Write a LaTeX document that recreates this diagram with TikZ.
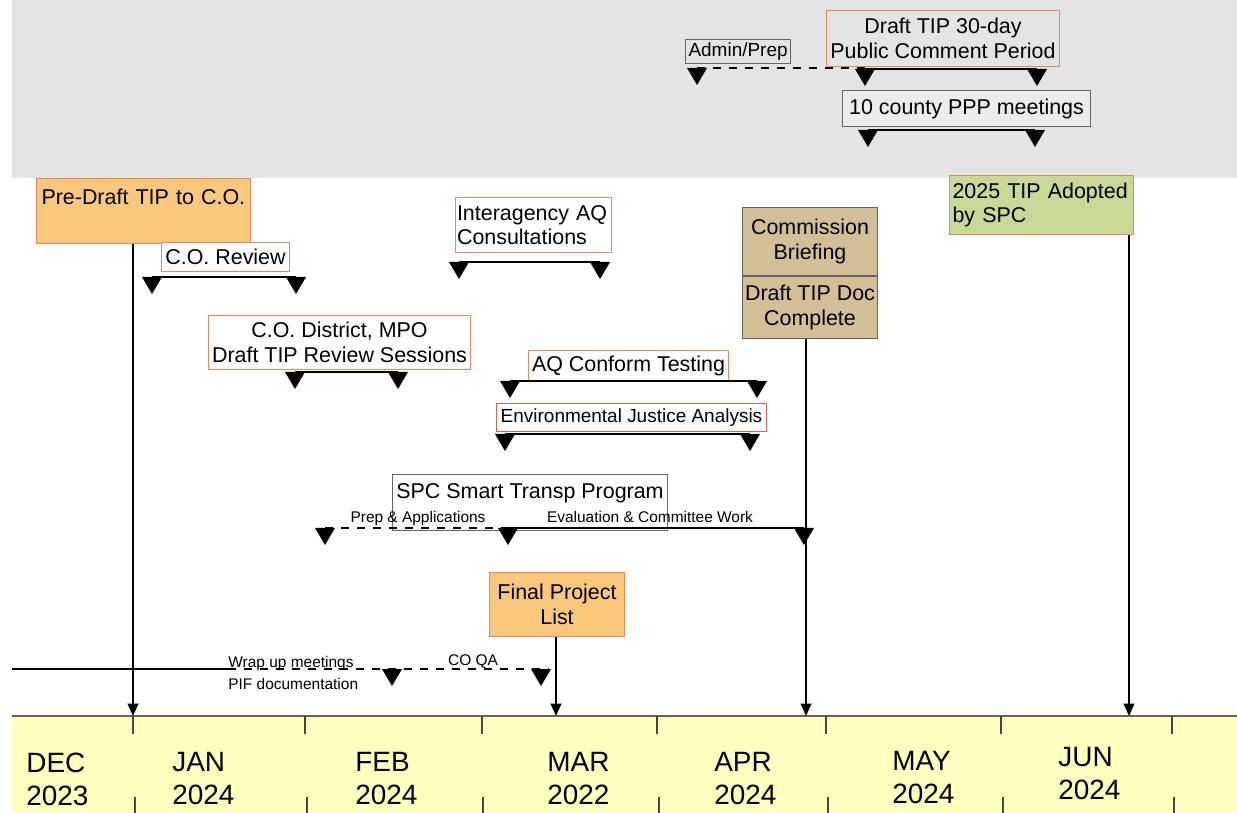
\documentclass[tikz,border=0pt]{standalone}
\usepackage{fontspec}
\setmainfont{Liberation Sans}
\usetikzlibrary{arrows.meta}

\definecolor{bandgray}{RGB}{228,228,228}
\definecolor{pppgray}{RGB}{236,236,236}
\definecolor{bandyellow}{RGB}{255,255,190}
\definecolor{boxorange}{RGB}{250,200,125}
\definecolor{boxtan}{RGB}{212,190,150}
\definecolor{boxgreen}{RGB}{200,216,150}
\definecolor{edgeorange}{RGB}{235,135,95}
\definecolor{edgered}{RGB}{222,95,80}
\definecolor{edgegray}{RGB}{100,100,100}

\newcommand\boxfont{\fontsize{12.2}{14}\selectfont}
\newcommand\midfont{\fontsize{10.8}{13}\selectfont}
\newcommand\notefont{\fontsize{8.8}{12.5}\selectfont}
\newcommand\monthfont{\fontsize{15.9}{18.8}\selectfont}

\newcommand\downmark[2]{\fill (#1-10,#2) -- (#1+10,#2) -- (#1,#2+17) -- cycle;}
\newcommand\spanbar[3]{\draw[bar] (#1,#3) -- (#2,#3); \downmark{#1}{#3}\downmark{#2}{#3}}

\begin{document}
\begin{tikzpicture}[x=0.02cm, y=-0.02cm,
  box/.style={draw=edgeorange, line width=0.6pt, anchor=north west, inner sep=0.06cm, font=\boxfont, align=center},
  graybox/.style={box, draw=edgegray},
  bar/.style={line width=1.3pt},
  lead/.style={line width=1.3pt, dash pattern=on 0.16cm off 0.16cm},
  milestone/.style={line width=1.1pt, -{Triangle[length=7pt,width=6pt]}},
  tickline/.style={edgegray!70!black, line width=0.8pt},
  note/.style={font=\notefont, inner sep=0},
  month/.style={font=\monthfont, align=left, anchor=west, inner sep=0}]
\useasboundingbox (0,0) rectangle (1237,813);

%bands
\fill[bandgray] (12,0) rectangle (1237,178);
\fill[bandyellow] (12,716) rectangle (1237,813);
\draw[edgegray, line width=0.7pt] (12,716) -- (1237,716);
\foreach \x in {133,305,482,657,826,1001,1172}
  \draw[tickline] (\x,716) -- (\x,734);
\foreach \x in {135,307,483,659,828,1003,1174}
  \draw[tickline] (\x,797) -- (\x,813);

%months
\foreach \x/\y/\m/\yr [count=\i] in {26/779/DEC/2023, 172/779/JAN/2024, 355/779/FEB/2024, 547/779/MAR/2022, 714/779/APR/2024, 892/778/MAY/2024, 1058/774/JUN/2024}
  \node[month] (month\i) at (\x,\y) {\m\\\yr};

%top band
\node[graybox, font=\midfont, minimum width=2.1cm, minimum height=0.48cm] (admin) at (685,39) {Admin/Prep};
\node[box, minimum width=4.66cm, minimum height=1.12cm] (pcp) at (826,10) {Draft TIP 30-day\\Public Comment Period};
\node[graybox, fill=pppgray, minimum width=4.96cm, minimum height=0.72cm] (ppp) at (842,90) {10 county PPP meetings};
\draw[lead] (697,68) -- (865,68);
\downmark{697}{68}
\spanbar{865}{1037}{69}
\spanbar{868}{1035}{130}

%milestones
\node[box, fill=boxorange, text width=4.08cm, align=left, inner xsep=0.1cm, inner ysep=0.2cm, text height=0.31cm, text depth=0.59cm] (pre) at (36,178) {Pre-Draft TIP to C.O.};
\node[box, fill=boxgreen, text width=3.56cm, align=left, minimum height=1.18cm] (adopt) at (949,175) {2025 TIP Adopted\\by SPC};
\node[graybox, fill=boxtan, minimum width=2.7cm, minimum height=1.36cm] (comm) at (742,207) {Commission\\Briefing};
\node[graybox, fill=boxtan, minimum width=2.7cm, minimum height=1.24cm, anchor=north] (doc) at (comm.south) {Draft TIP Doc\\Complete};
\node[box, fill=boxorange, minimum width=2.7cm, minimum height=1.28cm] (final) at (489,572) {Final Project\\List};

%reviews
\node[box, fill=white, minimum width=2.56cm, minimum height=0.58cm] (corev) at (161,242) {C.O. Review};
\node[box, fill=white, minimum width=5.24cm, minimum height=1.08cm] (codist) at (208,315) {C.O. District, MPO\\Draft TIP Review Sessions};
\node[box, fill=white, text width=3.06cm, align=left, inner xsep=0.03cm, minimum height=1.1cm] (inter) at (455,197) {Interagency AQ\\Consultations};
\node[box, fill=white, minimum width=4cm, minimum height=0.6cm] (aq) at (528,350) {AQ Conform Testing};
\node[box, draw=edgered, fill=white, font=\midfont, minimum width=5.4cm, minimum height=0.56cm] (ej) at (496,403) {Environmental Justice Analysis};
\node[graybox, minimum width=5.5cm, inner ysep=0.16cm, text height=0.31cm, text depth=0.49cm] (spc) at (392,474) {SPC Smart Transp Program};

%spans
\spanbar{152}{296}{277}
\spanbar{459}{600}{262}
\spanbar{295}{398}{372}
\spanbar{510}{757}{381}
\spanbar{505}{750}{434}
\draw[lead] (325,528) -- (508,528);
\downmark{325}{528}
\spanbar{508}{804}{528}
\draw[bar] (12,669) -- (228,669);
\draw[lead] (228,669) -- (549,669);
\downmark{392}{669}\downmark{541}{669}

%notes
\node[note] (prep) at (418,519) {Prep \& Applications};
\node[note] (evalw) at (650,517) {Evaluation \& Committee Work};
\node[note, align=left, anchor=west] (wrap) at (228,673) {Wrap up meetings\\PIF documentation};
\node[note] (coqa) at (473,662) {CO QA};

%arrows to timeline
\coordinate (tPre) at (133,716);
\coordinate (tFinal) at (556,716);
\coordinate (tDoc) at (806,716);
\coordinate (tAdopt) at (1129,716);
\draw[milestone] (pre.south -| tPre) -- (tPre);
\draw[milestone] (final.south -| tFinal) -- (tFinal);
\draw[milestone] (doc.south -| tDoc) -- (tDoc);
\draw[milestone] (adopt.south -| tAdopt) -- (tAdopt);
\end{tikzpicture}
\end{document}
